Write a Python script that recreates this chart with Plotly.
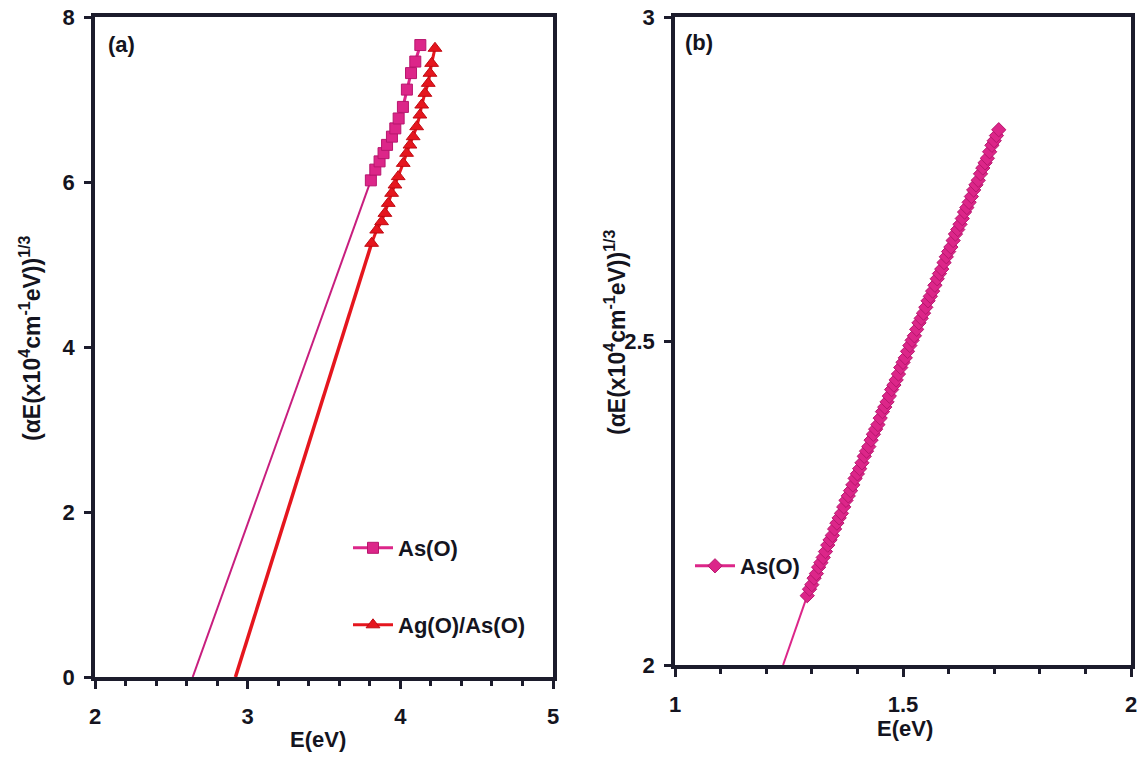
import plotly.graph_objects as go

FW, FH = 1137, 759


def X(px):
    return px / FW


def Y(py):
    return 1 - py / FH


# ---------------- Data: panel (a) ----------------
a_aso_E = [3.807, 3.836, 3.864, 3.890, 3.913, 3.945, 3.967, 3.989, 4.017, 4.043, 4.070, 4.098, 4.131]
a_aso_y = [6.02, 6.15, 6.25, 6.35, 6.45, 6.55, 6.65, 6.77, 6.91, 7.12, 7.32, 7.46, 7.66]

a_ag_E = [3.812, 3.845, 3.877, 3.899, 3.921, 3.943, 3.965, 3.986, 4.019, 4.041,
          4.063, 4.084, 4.107, 4.128, 4.140, 4.161, 4.183, 4.194, 4.205, 4.227]
a_ag_y = [5.257, 5.418, 5.519, 5.620, 5.741, 5.863, 5.964, 6.065, 6.226, 6.348,
          6.448, 6.549, 6.670, 6.812, 6.933, 7.075, 7.196, 7.318, 7.438, 7.621]

# extrapolation lines to the energy axis
a_aso_fit_E = [2.64, 3.807]
a_aso_fit_y = [0.0, 6.02]
a_ag_fit_E = [2.92, 3.812]
a_ag_fit_y = [0.0, 5.257]

# ---------------- Data: panel (b) ----------------
b_E = [1.290, 1.295, 1.300, 1.305, 1.310, 1.315, 1.320, 1.325, 1.330, 1.335,
       1.340, 1.345, 1.350, 1.355, 1.360, 1.365, 1.370, 1.375, 1.380, 1.385,
       1.390, 1.395, 1.400, 1.405, 1.410, 1.415, 1.420, 1.425, 1.430, 1.435,
       1.440, 1.445, 1.450, 1.455, 1.460, 1.465, 1.470, 1.475, 1.480, 1.485,
       1.490, 1.495, 1.500, 1.505, 1.510, 1.515, 1.520, 1.525, 1.530, 1.535,
       1.540, 1.545, 1.550, 1.555, 1.560, 1.565, 1.570, 1.575, 1.580, 1.585,
       1.590, 1.595, 1.600, 1.605, 1.610, 1.615, 1.620, 1.625, 1.630, 1.635,
       1.640, 1.645, 1.650, 1.655, 1.660, 1.665, 1.670, 1.675, 1.680, 1.685,
       1.690, 1.695, 1.700, 1.705, 1.710]
b_y = [2.107, 2.117, 2.124, 2.134, 2.141, 2.151, 2.158, 2.166, 2.175, 2.185,
       2.193, 2.200, 2.210, 2.219, 2.227, 2.234, 2.244, 2.254, 2.261, 2.269,
       2.278, 2.288, 2.295, 2.303, 2.312, 2.322, 2.330, 2.337, 2.347, 2.356,
       2.364, 2.371, 2.381, 2.391, 2.398, 2.406, 2.415, 2.425, 2.432, 2.440,
       2.449, 2.459, 2.467, 2.474, 2.484, 2.493, 2.501, 2.508, 2.518, 2.528,
       2.535, 2.543, 2.552, 2.562, 2.569, 2.577, 2.586, 2.596, 2.604, 2.611,
       2.621, 2.630, 2.638, 2.645, 2.655, 2.665, 2.672, 2.680, 2.689, 2.699,
       2.706, 2.714, 2.723, 2.733, 2.741, 2.748, 2.758, 2.767, 2.775, 2.782,
       2.792, 2.802, 2.809, 2.817, 2.826]
b_fit_E = [1.237, 1.290]
b_fit_y = [2.0, 2.107]

a_xticks = [2, 3, 4, 5]
a_yticks = [0, 2, 4, 6, 8]
b_xticks = [1, 1.5, 2]
b_yticks = [2, 2.5, 3]

MAG = "#DC2689"
MAG_DK = "#B8166E"
RED = "#E5161E"
RED_DK = "#C00A12"
AXC = "#1c1c2c"
TXT = "#141420"
FONT = "Arial, Liberation Sans, sans-serif"


def b(s):
    return "<b>" + s + "</b>"


fig = go.Figure()

# Panel (a)
fig.add_trace(go.Scatter(x=a_aso_fit_E, y=a_aso_fit_y, mode="lines",
                         line=dict(color="#C81E7E", width=2), showlegend=False,
                         xaxis="x", yaxis="y", hoverinfo="skip"))
fig.add_trace(go.Scatter(x=a_ag_fit_E, y=a_ag_fit_y, mode="lines",
                         line=dict(color=RED, width=3.5), showlegend=False,
                         xaxis="x", yaxis="y", hoverinfo="skip"))
fig.add_trace(go.Scatter(x=a_aso_E, y=a_aso_y, mode="lines+markers", name=b("As(O)"),
                         line=dict(color=MAG, width=3),
                         marker=dict(symbol="square", size=11, color=MAG,
                                     line=dict(color=MAG_DK, width=1)),
                         xaxis="x", yaxis="y", legend="legend"))
fig.add_trace(go.Scatter(x=a_ag_E, y=a_ag_y, mode="lines+markers", name=b("Ag(O)/As(O)"),
                         line=dict(color=RED, width=3),
                         marker=dict(symbol="triangle-up", size=12, color=RED,
                                     line=dict(color=RED_DK, width=1)),
                         xaxis="x", yaxis="y", legend="legend2"))

# Panel (b)
fig.add_trace(go.Scatter(x=b_fit_E, y=b_fit_y, mode="lines",
                         line=dict(color=MAG, width=2), showlegend=False,
                         xaxis="x2", yaxis="y2", hoverinfo="skip"))
fig.add_trace(go.Scatter(x=b_E, y=b_y, mode="lines+markers", name=b("As(O)"),
                         line=dict(color=MAG, width=3),
                         marker=dict(symbol="diamond", size=11, color=MAG,
                                     line=dict(color=MAG_DK, width=1)),
                         xaxis="x2", yaxis="y2", legend="legend3"))

tickfont = dict(family=FONT, size=22, color=TXT)
common = dict(showline=True, mirror=True, linewidth=3.5, linecolor=AXC,
              ticks="outside", tickwidth=3, tickcolor=AXC, showgrid=False,
              zeroline=False, tickfont=tickfont, automargin=False, fixedrange=True,
              tickmode="array", ticklabeloverflow="allow")
legfont = dict(family=FONT, size=22, color=TXT)

fig.update_layout(
    width=FW, height=FH,
    margin=dict(l=0, r=0, t=0, b=0),
    paper_bgcolor="white", plot_bgcolor="white",
    xaxis=dict(domain=[X(95), X(553)], range=[2, 5], ticklen=8,
               tickvals=a_xticks, ticktext=[b(str(v)) for v in a_xticks],
               ticklabelstandoff=9,
               minor=dict(dtick=0.2, ticks="outside", ticklen=5, tickwidth=3, tickcolor=AXC),
               anchor="y", **common),
    yaxis=dict(domain=[Y(677), Y(17)], range=[0, 8], ticklen=7,
               tickvals=a_yticks, ticktext=[b(str(v)) for v in a_yticks],
               ticklabelstandoff=5, anchor="x", **common),
    xaxis2=dict(domain=[X(675), X(1131)], range=[1, 2], ticklen=8,
                tickvals=b_xticks, ticktext=[b(str(v)) for v in b_xticks],
                ticklabelstandoff=9,
                minor=dict(dtick=0.1, ticks="outside", ticklen=5, tickwidth=3, tickcolor=AXC),
                anchor="y2", **common),
    yaxis2=dict(domain=[Y(665), Y(17)], range=[2, 3], ticklen=7,
                tickvals=b_yticks, ticktext=[b(str(v)) for v in b_yticks],
                ticklabelstandoff=5, anchor="x2", **common),
    legend=dict(x=X(348), y=Y(548), xanchor="left", yanchor="middle",
                bgcolor="rgba(0,0,0,0)", itemwidth=40, font=legfont),
    legend2=dict(x=X(348), y=Y(625), xanchor="left", yanchor="middle",
                 bgcolor="rgba(0,0,0,0)", itemwidth=40, font=legfont),
    legend3=dict(x=X(690), y=Y(566), xanchor="left", yanchor="middle",
                 bgcolor="rgba(0,0,0,0)", itemwidth=40, font=legfont),
)

afont = dict(family=FONT, size=22, color=TXT)
yfont = dict(family=FONT, size=23, color=TXT)
ytitle = b("(αE(x10<sup>4</sup>cm<sup>-1</sup>eV))<sup>1/3</sup>")
annots = [
    dict(x=X(106), y=Y(45), text=b("(a)"), xanchor="left", yanchor="middle", font=afont),
    dict(x=X(683), y=Y(42), text=b("(b)"), xanchor="left", yanchor="middle", font=afont),
    dict(x=X(318), y=Y(739), text=b("E(eV)"), xanchor="center", yanchor="middle", font=afont),
    dict(x=X(905), y=Y(728), text=b("E(eV)"), xanchor="center", yanchor="middle", font=afont),
    dict(x=X(30), y=Y(338), text=ytitle, textangle=-90, xanchor="center", yanchor="middle", font=yfont),
    dict(x=X(615), y=Y(332), text=ytitle, textangle=-90, xanchor="center", yanchor="middle", font=yfont),
]
for a in annots:
    fig.add_annotation(xref="paper", yref="paper", showarrow=False, **a)

fig.write_html("out.html", config={"displayModeBar": False},
               post_script="document.body.style.margin='0';")
